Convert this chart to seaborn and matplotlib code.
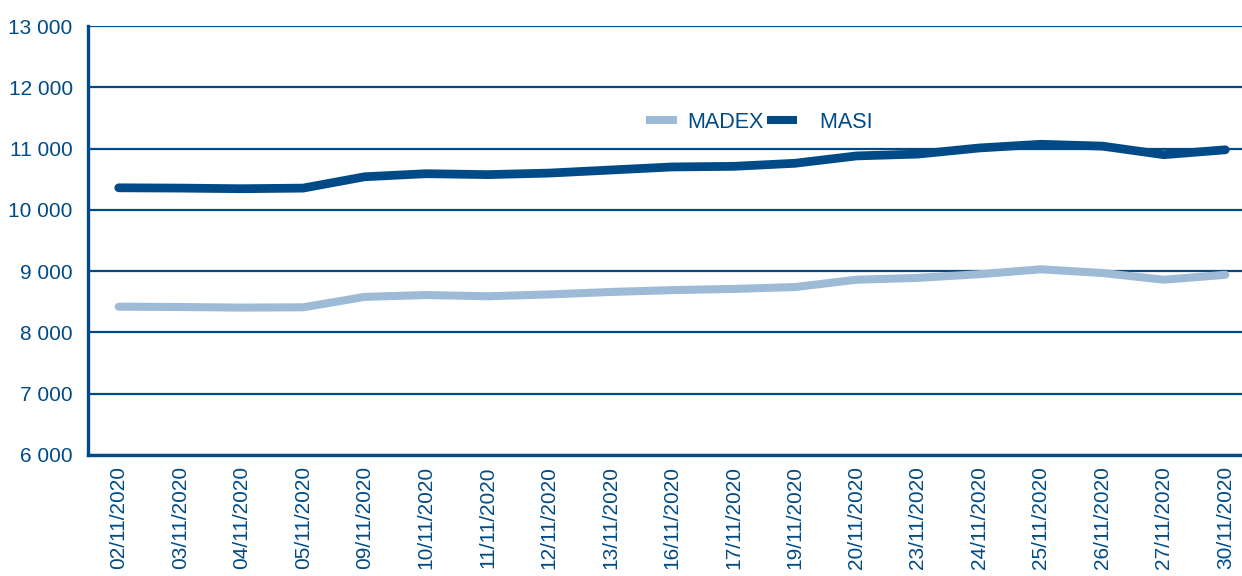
import matplotlib
matplotlib.use("Agg")
import matplotlib.pyplot as plt
import seaborn as sns
import pandas as pd
from matplotlib.ticker import MultipleLocator, FuncFormatter
from matplotlib.lines import Line2D

dates = ["02/11/2020", "03/11/2020", "04/11/2020", "05/11/2020", "09/11/2020",
         "10/11/2020", "11/11/2020", "12/11/2020", "13/11/2020", "16/11/2020",
         "17/11/2020", "19/11/2020", "20/11/2020", "23/11/2020", "24/11/2020",
         "25/11/2020", "26/11/2020", "27/11/2020", "30/11/2020"]
masi = [10360, 10355, 10345, 10355, 10540, 10590, 10575, 10600, 10650, 10700,
        10710, 10760, 10880, 10910, 11010, 11070, 11040, 10900, 10980]
madex = [8420, 8415, 8405, 8410, 8580, 8610, 8590, 8620, 8660, 8690,
         8710, 8740, 8860, 8890, 8950, 9030, 8970, 8860, 8940]

dark = "#004b87"
light = "#9dbbd6"

df = pd.DataFrame({"date": dates * 2,
                   "value": madex + masi,
                   "index": ["MADEX"] * len(dates) + ["MASI"] * len(dates)})

sns.set_style("white")
plt.rcParams["font.family"] = ["Liberation Sans", "DejaVu Sans"]

fig = plt.figure(figsize=(12.42, 5.76), dpi=100)
ax = fig.add_axes([88 / 1242, 1 - 455 / 576, (1256 - 88) / 1242, 429 / 576])

sns.lineplot(data=df, x="date", y="value", hue="index", sort=False,
             palette={"MADEX": light, "MASI": dark}, ax=ax, legend=False)
for line, lw in zip(ax.lines, [5.8, 6.3]):
    line.set_linewidth(lw)
    line.set_solid_capstyle("round")
    line.set_solid_joinstyle("round")

ax.set_ylim(6000, 13000)
ax.set_xlim(-0.5, len(dates) - 0.5)
ax.yaxis.set_major_locator(MultipleLocator(1000))
ax.yaxis.set_minor_locator(MultipleLocator(125))
ax.yaxis.set_major_formatter(FuncFormatter(lambda v, p: f"{int(v):,}".replace(",", " ")))
ax.grid(axis="y", color=dark, linewidth=1.6)
ax.set_axisbelow(True)

for s in ["top", "right"]:
    ax.spines[s].set_visible(False)
for s in ["left", "bottom"]:
    ax.spines[s].set_color(dark)
    ax.spines[s].set_linewidth(2.4)

ax.tick_params(axis="y", which="major", length=0, pad=11, labelsize=15, labelcolor=dark)
ax.tick_params(axis="y", which="minor", direction="in", length=3, color=light, width=0.8)
ax.tick_params(axis="x", length=0, pad=8, labelsize=15, labelcolor=dark, rotation=90)
ax.set_xlabel("")
ax.set_ylabel("")

handles = [Line2D([], [], color=light, linewidth=5.8, solid_capstyle="butt"),
           Line2D([], [], color=dark, linewidth=5.8, solid_capstyle="butt")]
leg = ax.legend(handles, ["MADEX", "  MASI"], ncol=2, frameon=False,
                loc="center", bbox_to_anchor=(0.575, 0.776),
                fontsize=15.5, handlelength=1.4, columnspacing=0.14, handletextpad=0.51)
for t in leg.get_texts():
    t.set_color(dark)

fig.savefig("out.png", dpi=100)
